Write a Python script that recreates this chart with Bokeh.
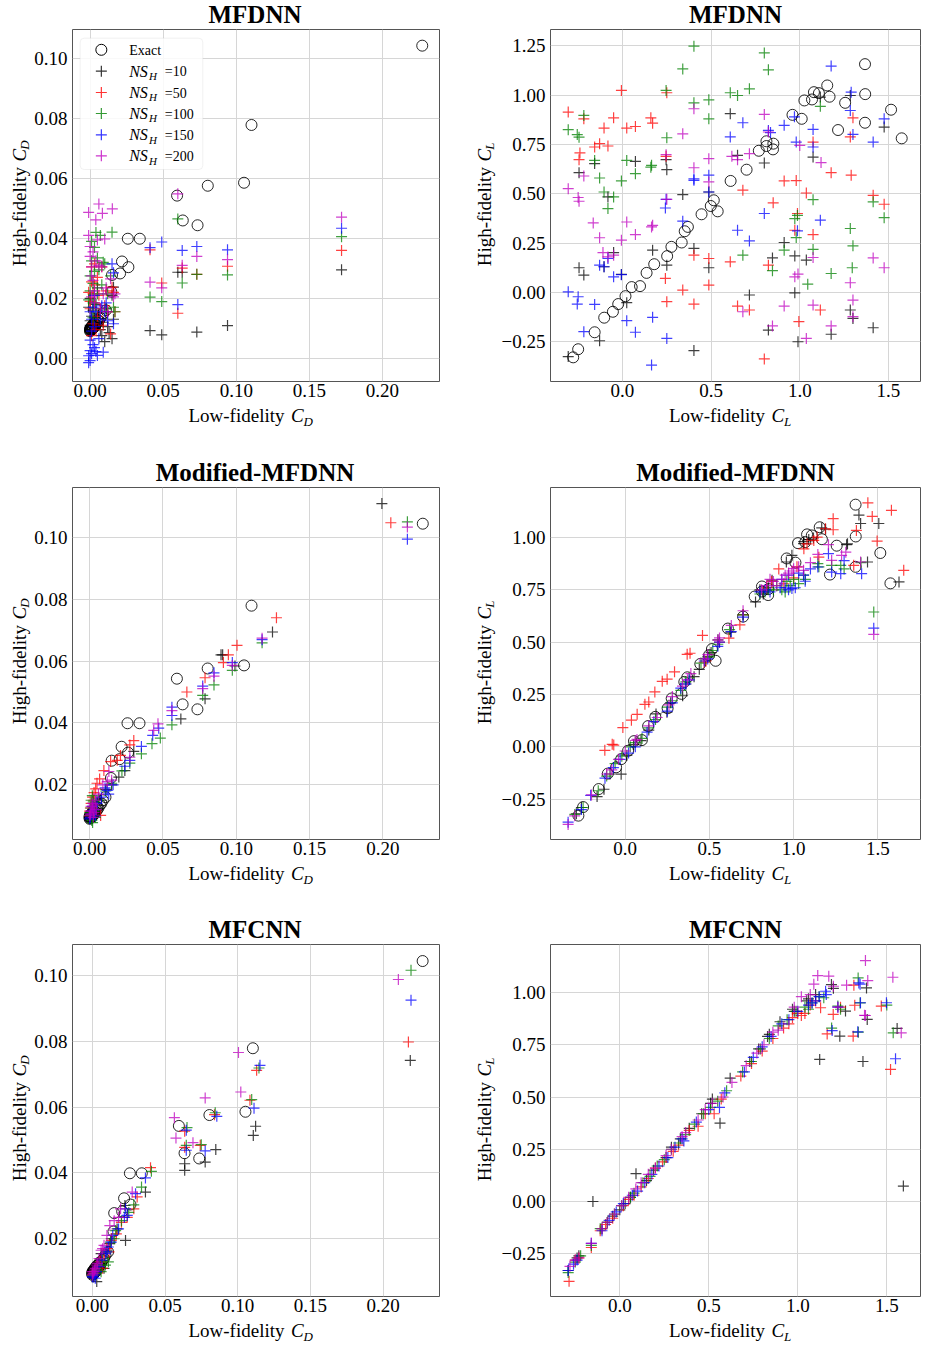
import math
from bokeh.plotting import figure
from bokeh.layouts import column, row
from bokeh.models import Range1d, FixedTicker, CustomJSTickFormatter, Label, BoxAnnotation
from bokeh.embed import file_html
from bokeh.resources import INLINE

FONT = "Liberation Serif"

SERIES_LABELS = ["10", "50", "100", "150", "200"]
SERIES_COLORS = ["#000000", "#ff0000", "#008000", "#0000ff", "#bf00bf"]

CD_X_TICKS = [0.0, 0.05, 0.10, 0.15, 0.20]
CD_Y_TICKS = [0.0, 0.02, 0.04, 0.06, 0.08, 0.10]
CL_X_TICKS = [0.0, 0.5, 1.0, 1.5]
CL_Y_TICKS = [-0.25, 0.0, 0.25, 0.5, 0.75, 1.0, 1.25]

# ---------------- exact values (low-fidelity, high-fidelity) ----------------
EXACT_CD = [(0.2272, 0.1044), (0.1104, 0.0779), (0.0805, 0.0576), (0.1053, 0.0586), (0.0595, 0.0543),
            (0.0634, 0.0460), (0.0735, 0.0444), (0.0258, 0.0399), (0.0340, 0.0399), (0.0218, 0.0323),
            (0.0262, 0.0304), (0.0205, 0.0283), (0.0150, 0.0278), (0.0145, 0.0222), (0.0108, 0.0160),
            (0.0, 0.0093), (0.0, 0.0096), (0.0, 0.0099), (0.0005, 0.0094), (0.0005, 0.0098), (0.0005, 0.0102),
            (0.001, 0.0095), (0.001, 0.0100), (0.001, 0.0105), (0.0015, 0.0097), (0.0015, 0.0103),
            (0.0015, 0.0108), (0.002, 0.0100), (0.002, 0.0106), (0.002, 0.0112), (0.003, 0.0104),
            (0.003, 0.0110), (0.003, 0.0118), (0.004, 0.0112), (0.004, 0.0120), (0.005, 0.0118),
            (0.005, 0.0128), (0.006, 0.0125), (0.007, 0.0135), (0.008, 0.0140), (0.009, 0.0150), (0.0, 0.0090)]

EXACT_CL = [(-0.278, -0.329), (-0.25, -0.288), (-0.157, -0.202), (-0.103, -0.128), (-0.054, -0.098),
            (-0.024, -0.059), (0.017, -0.019), (0.052, 0.027), (0.099, 0.032), (0.136, 0.099),
            (0.179, 0.143), (0.252, 0.184), (0.276, 0.231), (0.334, 0.253), (0.351, 0.310),
            (0.369, 0.332), (0.446, 0.396), (0.498, 0.438), (0.515, 0.467), (0.537, 0.411),
            (0.610, 0.565), (0.700, 0.622), (0.769, 0.718), (0.812, 0.766), (0.812, 0.742),
            (0.851, 0.754), (0.849, 0.725), (0.959, 0.900), (1.011, 0.880), (1.026, 0.973),
            (1.069, 0.978), (1.080, 1.015), (1.108, 1.010), (1.155, 1.049), (1.168, 0.992),
            (1.216, 0.823), (1.256, 0.961), (1.368, 1.157), (1.369, 1.005), (1.368, 0.860),
            (1.515, 0.926), (1.575, 0.781)]

# ---------------- MFDNN, C_D ----------------
MFDNN_CD_10 = [(0.0, 0.0095), (0.0, 0.011), (0.0, 0.0125), (0.001, 0.009), (0.001, 0.0105), (0.001, 0.014),
               (0.002, 0.0115), (0.002, 0.016), (0.003, 0.010), (0.003, 0.0135), (0.004, 0.018), (0.005, 0.012),
               (0.005, 0.0235), (0.006, 0.015), (0.007, 0.0095), (0.008, 0.0075), (0.009, 0.012), (0.010, 0.0055),
               (0.011, 0.0165), (0.012, 0.0105), (0.013, 0.0085), (0.015, 0.0065), (0.015, 0.021), (0.016, 0.0237),
               (0.016, 0.013), (-0.001, 0.017), (0.0, 0.020), (0.041, 0.0092), (0.049, 0.0078), (0.060, 0.0287),
               (0.063, 0.0287), (0.073, 0.0087), (0.094, 0.0109), (0.172, 0.0295)]
MFDNN_CD_50 = [(-0.001, 0.022), (0.0, 0.019), (0.0, 0.0165), (0.001, 0.0305), (0.001, 0.0255), (0.002, 0.0215),
               (0.002, 0.0115), (0.003, 0.0315), (0.003, 0.0185), (0.004, 0.0095), (0.005, 0.027), (0.005, 0.014),
               (0.006, 0.021), (0.007, 0.0165), (0.008, 0.0305), (0.009, 0.011), (0.010, 0.0175), (0.011, 0.0225),
               (0.012, 0.0155), (0.014, 0.0081), (0.015, 0.0237), (0.016, 0.022), (0.017, 0.0155), (0.001, 0.0075),
               (0.003, 0.0245), (0.041, 0.0362), (0.049, 0.0251), (0.060, 0.0150), (0.063, 0.0301), (0.073, 0.0280),
               (0.094, 0.0307), (0.172, 0.0360)]
MFDNN_CD_100 = [(-0.001, 0.0195), (0.0, 0.0225), (0.0, 0.0275), (0.001, 0.039), (0.001, 0.0325), (0.002, 0.025),
                (0.002, 0.0185), (0.003, 0.037), (0.003, 0.029), (0.004, 0.042), (0.005, 0.0215), (0.005, 0.0335),
                (0.006, 0.0295), (0.007, 0.041), (0.008, 0.0245), (0.009, 0.032), (0.010, 0.0315), (0.011, 0.0165),
                (0.012, 0.0215), (0.014, 0.0275), (0.015, 0.0421), (0.016, 0.017), (0.017, 0.0155), (0.002, 0.0135),
                (0.004, 0.0165), (0.041, 0.0204), (0.049, 0.0189), (0.060, 0.0465), (0.063, 0.0251), (0.073, 0.0280),
                (0.094, 0.0278), (0.172, 0.0406)]
MFDNN_CD_150 = [(-0.001, -0.0015), (-0.001, 0.0008), (0.0, -0.0008), (0.0, 0.0025), (0.0, 0.006), (0.001, 0.0015),
                (0.001, 0.009), (0.001, 0.013), (0.002, 0.0045), (0.002, 0.017), (0.003, 0.0035), (0.003, 0.0105),
                (0.004, 0.0022), (0.004, 0.0155), (0.005, 0.0009), (0.006, 0.0065), (0.007, 0.013), (0.008, 0.0175),
                (0.009, 0.002), (0.010, 0.0155), (0.011, 0.0185), (0.012, 0.0125), (0.015, 0.0315), (0.016, 0.0285),
                (0.016, 0.0115), (0.003, 0.021), (0.0, 0.0155), (0.041, 0.0369), (0.049, 0.0388), (0.060, 0.0179),
                (0.063, 0.0360), (0.073, 0.0373), (0.094, 0.0362), (0.172, 0.0434)]
MFDNN_CD_200 = [(-0.001, 0.0487), (0.006, 0.0515), (0.0084, 0.0484), (0.0152, 0.0499), (0.0039, 0.0462),
                (-0.001, 0.041), (0.0, 0.0373), (0.0, 0.034), (0.001, 0.0305), (0.001, 0.0275), (0.002, 0.026),
                (0.002, 0.0355), (0.003, 0.0225), (0.003, 0.0185), (0.004, 0.0325), (0.005, 0.0395), (0.006, 0.031),
                (0.007, 0.0165), (0.008, 0.0305), (0.009, 0.0215), (0.010, 0.0398), (0.011, 0.0235), (0.012, 0.0155),
                (0.014, 0.0265), (0.016, 0.0205), (0.017, 0.0215), (0.001, 0.0205), (0.041, 0.0254), (0.049, 0.0235),
                (0.060, 0.0549), (0.063, 0.0310), (0.073, 0.0340), (0.094, 0.0329), (0.172, 0.0471)]

# ---------------- MFDNN, C_L ----------------
MFDNN_CL_10 = [(-0.306, -0.325), (-0.245, 0.607), (-0.245, 0.125), (-0.218, 0.088), (-0.157, 0.653), (-0.129, -0.245),
               (-0.104, 0.13), (-0.082, 0.484), (-0.05, 0.202), (-0.006, 0.091), (0.024, -0.052), (0.073, 0.664),
               (0.17, 0.214), (0.246, 0.673), (0.25, 0.622), (0.25, 0.138), (0.34, 0.496), (0.403, 0.223),
               (0.403, -0.295), (0.487, 0.509), (0.487, 0.125), (0.608, 0.906), (0.649, 0.695), (0.716, -0.013),
               (0.8, 0.656), (0.846, 0.175), (0.823, -0.191), (0.912, 0.253), (0.972, 0.185), (0.972, -0.002),
               (0.99, -0.25), (1.037, 0.164), (1.075, 0.686), (1.116, 0.99), (1.177, -0.212), (1.285, 0.998),
               (1.285, -0.089), (1.3, -0.132), (1.414, -0.179), (1.476, 0.838)]
MFDNN_CL_50 = [(-0.306, 0.914), (-0.245, 0.673), (-0.24, 0.707), (-0.218, 0.88), (-0.157, 0.737), (-0.129, 0.754),
               (-0.104, 0.833), (-0.082, 0.742), (-0.05, 0.885), (-0.006, 1.024), (0.024, 0.833), (0.073, 0.841),
               (0.16, 0.885), (0.17, 0.858), (0.25, 1.012), (0.246, 0.69), (0.242, 0.071), (0.25, -0.047),
               (0.34, 0.012), (0.403, 0.189), (0.403, -0.059), (0.487, 0.172), (0.487, 0.037), (0.608, 0.155),
               (0.649, -0.069), (0.679, 0.518), (0.716, -0.089), (0.8, -0.337), (0.85, 0.454), (0.823, 0.138),
               (0.912, 0.565), (0.972, 0.315), (0.98, 0.567), (0.987, 0.40), (0.995, -0.148), (1.037, 0.504),
               (1.075, 0.762), (1.075, 0.293), (1.116, -0.089), (1.177, 0.607), (1.285, 0.788), (1.29, 0.594),
               (1.3, 0.885), (1.414, 0.492), (1.476, 0.447)]
MFDNN_CL_100 = [(-0.306, 0.825), (-0.255, 0.80), (-0.245, 0.787), (-0.218, 0.897), (-0.157, 0.669), (-0.129, 0.58),
                (-0.104, 0.509), (-0.05, 0.484), (-0.082, 0.425), (-0.006, 0.565), (0.024, 0.669), (0.073, 0.602),
                (0.164, 0.644), (0.16, 0.635), (0.246, 1.024), (0.25, 0.784), (0.34, 1.133), (0.403, 1.248),
                (0.403, 0.961), (0.487, 0.976), (0.487, 0.88), (0.608, 1.012), (0.649, 0.998), (0.679, 0.189),
                (0.716, 1.032), (0.8, 1.214), (0.823, 1.128), (0.846, 0.11), (0.912, 0.214), (0.972, 0.374),
                (0.987, 0.39), (0.98, 0.278), (1.045, 0.042), (1.075, 0.47), (1.075, 0.218), (1.116, 0.943),
                (1.177, 0.096), (1.285, 0.324), (1.3, 0.236), (1.296, 0.125), (1.414, 0.459), (1.476, 0.379)]
MFDNN_CL_150 = [(-0.306, 0.003), (-0.25, -0.022), (-0.255, -0.059), (-0.218, -0.199), (-0.157, -0.061), (-0.129, 0.138),
                (-0.104, 0.13), (-0.082, 0.172), (-0.05, 0.079), (-0.006, 0.09), (0.024, -0.143), (0.073, -0.202),
                (0.17, -0.126), (0.164, -0.368), (0.246, 0.472), (0.242, 0.428), (0.25, -0.233), (0.34, 0.361),
                (0.403, 0.568), (0.403, 0.575), (0.487, 0.594), (0.487, 0.509), (0.608, 0.788), (0.649, 0.315),
                (0.679, 0.86), (0.716, 0.261), (0.8, 0.40), (0.823, 0.821), (0.835, 0.81), (0.912, 0.847),
                (0.98, 0.762), (0.987, 0.312), (1.075, 0.826), (1.075, 0.737), (1.116, 0.366), (1.177, 1.147),
                (1.29, 1.015), (1.285, 0.922), (1.3, 0.801), (1.414, 0.762), (1.476, 0.88), (0.97, 0.89)]
MFDNN_CL_200 = [(-0.306, 0.526), (-0.25, 0.481), (-0.245, 0.462), (-0.218, 0.59), (-0.165, 0.352), (-0.129, 0.277),
                (-0.11, 0.202), (-0.082, 0.18), (-0.05, 0.189), (-0.006, 0.265), (0.024, 0.357), (0.073, 0.293),
                (0.164, 0.332), (0.17, 0.34), (0.246, 0.698), (0.25, 0.472), (0.34, 0.804), (0.403, 0.931),
                (0.403, 0.632), (0.487, 0.678), (0.487, 0.56), (0.617, 0.69), (0.649, 0.673), (0.679, -0.098),
                (0.716, 0.703), (0.8, 0.902), (0.823, 0.813), (0.846, -0.17), (0.912, -0.069), (0.972, 0.079),
                (0.99, 0.093), (1.0, 0.745), (1.037, -0.233), (1.075, 0.177), (1.075, -0.064), (1.12, 0.658),
                (1.177, -0.17), (1.285, 0.049), (1.3, -0.039), (1.3, -0.123), (1.414, 0.175), (1.476, 0.125)]

# ---------------- Modified-MFDNN, C_D ----------------
MOD_CD_10 = [(0.1993, 0.1109), (0.1247, 0.0694), (0.0896, 0.0620), (0.0907, 0.0620), (0.0991, 0.0584), (0.0787, 0.0478),
             (0.0622, 0.0413), (0.0301, 0.0308), (0.0240, 0.0246), (0.0199, 0.0225), (0.0150, 0.0200), (0.0110, 0.0185),
             (0.0063, 0.0155), (0.0040, 0.0135), (0.0025, 0.0120), (0.0015, 0.0108), (0.0005, 0.0098), (0.0, 0.0095),
             (0.0, 0.0092), (0.001, 0.0100), (0.002, 0.0112), (0.003, 0.0125), (0.008, 0.0150), (0.0005, 0.0105),
             (0.0015, 0.0095)]
MOD_CD_50 = [(0.2054, 0.1047), (0.1274, 0.0740), (0.1005, 0.0651), (0.0946, 0.0620), (0.0912, 0.0595), (0.0787, 0.0546),
             (0.0663, 0.0500), (0.0301, 0.0343), (0.0274, 0.0329), (0.0210, 0.0295), (0.0188, 0.0279), (0.0143, 0.0275),
             (0.0097, 0.0246), (0.0068, 0.0219), (0.0041, 0.0187), (0.0030, 0.0175), (0.0020, 0.0160), (0.0075, 0.0101),
             (0.0010, 0.0140), (0.0005, 0.0125), (0.0, 0.0115), (0.005, 0.0205), (0.0025, 0.0150), (0.0015, 0.0105),
             (0.0, 0.0100)]
MOD_CD_100 = [(0.2167, 0.1050), (0.1176, 0.0659), (0.0973, 0.0570), (0.0848, 0.0523), (0.0771, 0.0489), (0.0561, 0.0394),
              (0.0482, 0.0351), (0.0425, 0.0333), (0.0353, 0.0300), (0.0274, 0.0270), (0.0220, 0.0245), (0.0150, 0.0205),
              (0.0110, 0.0180), (0.0018, 0.0165), (0.0010, 0.0150), (0.0020, 0.0130), (0.0030, 0.0115), (0.0005, 0.0100),
              (0.0015, 0.0085), (0.0020, 0.0078), (0.0, 0.0110), (0.004, 0.0095), (0.0025, 0.0145), (0.006, 0.0150),
              (0.0008, 0.0125)]
MOD_CD_150 = [(0.2167, 0.0994), (0.1176, 0.0669), (0.0973, 0.0595), (0.0848, 0.0562), (0.0771, 0.0519), (0.0561, 0.0451),
              (0.0561, 0.0424), (0.0471, 0.0383), (0.0430, 0.0360), (0.0353, 0.0324), (0.0274, 0.0279), (0.0240, 0.0260),
              (0.0120, 0.0182), (0.0130, 0.0170), (0.0105, 0.0190), (0.0080, 0.0160), (0.0050, 0.0140), (0.0030, 0.0120),
              (0.0015, 0.0105), (0.0005, 0.0095), (0.0, 0.0090), (0.002, 0.0130), (0.001, 0.0115), (0.0160, 0.0200),
              (0.0040, 0.0100)]
MOD_CD_200 = [(0.2167, 0.1033), (0.1176, 0.0674), (0.0973, 0.0586), (0.0848, 0.0551), (0.0771, 0.0511), (0.0561, 0.0440),
              (0.0466, 0.0397), (0.0437, 0.0376), (0.0274, 0.0289), (0.0131, 0.0243), (0.0120, 0.0210), (0.0150, 0.0215),
              (0.0090, 0.0200), (0.0060, 0.0170), (0.0040, 0.0150), (0.0030, 0.0135), (0.0020, 0.0125), (0.0010, 0.0115),
              (0.0005, 0.0105), (0.0, 0.0100), (0.002, 0.0140), (0.003, 0.0110), (0.001, 0.0130), (0.0025, 0.0095),
              (0.0045, 0.0120)]

# ---------------- Modified-MFDNN, C_L ----------------
MOD_CL_10 = [(-0.29, -0.32), (-0.26, -0.29), (-0.167, -0.238), (-0.126, -0.203), (-0.09, -0.13), (-0.024, -0.131),
             (0.01, -0.04), (0.05, 0.01), (0.094, 0.029), (0.14, 0.08), (0.183, 0.157), (0.248, 0.165), (0.27, 0.21),
             (0.341, 0.244), (0.36, 0.30), (0.409, 0.335), (0.44, 0.37), (0.49, 0.43), (0.51, 0.45), (0.551, 0.511),
             (0.626, 0.548), (0.70, 0.631), (0.774, 0.692), (0.80, 0.75), (0.82, 0.73), (0.85, 0.76), (0.872, 0.796),
             (0.957, 0.883), (0.99, 0.915), (1.059, 0.971), (1.09, 0.99), (1.118, 0.998), (1.167, 1.046), (1.19, 1.04),
             (1.315, 0.966), (1.32, 0.97), (1.388, 1.107), (1.398, 1.067), (1.506, 1.067), (1.439, 0.883),
             (1.626, 0.788), (1.06, 0.98)]
MOD_CL_50 = [(-0.121, -0.017), (-0.077, 0.012), (-0.068, 0.008), (-0.014, 0.092), (0.037, 0.127), (0.071, 0.155),
             (0.117, 0.203), (0.140, 0.214), (0.176, 0.262), (0.220, 0.313), (0.249, 0.323), (0.293, 0.358),
             (0.368, 0.442), (0.385, 0.447), (0.459, 0.532), (0.469, 0.404), (0.48, 0.41), (0.56, 0.50),
             (0.616, 0.519), (0.681, 0.583), (0.701, 0.631), (0.84, 0.76), (0.87, 0.79), (0.912, 0.850),
             (0.942, 0.779), (1.001, 0.807), (1.02, 0.86), (1.061, 0.946), (1.12, 0.986), (1.14, 1.002),
             (1.189, 1.042), (1.235, 1.090), (1.235, 1.037), (1.15, 0.906), (1.357, 0.867), (1.373, 1.034),
             (1.441, 1.166), (1.467, 1.101), (1.496, 0.983), (1.581, 1.130), (1.654, 0.843), (1.08, 0.97)]
MOD_CL_100 = [(-0.299, -0.323), (-0.25, -0.29), (-0.16, -0.21), (-0.11, -0.14), (-0.06, -0.08), (-0.02, -0.045),
              (0.03, 0.0), (0.06, 0.02), (0.1, 0.04), (0.14, 0.09), (0.18, 0.13), (0.25, 0.19), (0.28, 0.22),
              (0.33, 0.27), (0.36, 0.31), (0.38, 0.33), (0.45, 0.40), (0.50, 0.43), (0.52, 0.46), (0.55, 0.49),
              (0.62, 0.56), (0.70, 0.63), (0.80, 0.73), (0.83, 0.74), (0.85, 0.75), (0.88, 0.75), (0.93, 0.75),
              (0.96, 0.79), (1.0, 0.80), (1.03, 0.78), (1.07, 0.80), (1.144, 0.875), (1.15, 0.86), (1.226, 0.867),
              (1.28, 0.867), (1.30, 0.85), (1.40, 0.88), (1.476, 0.644), (0.95, 0.74), (0.98, 0.77), (1.06, 0.82),
              (0.90, 0.77)]
MOD_CL_150 = [(-0.339, -0.36), (-0.26, -0.30), (-0.205, -0.232), (-0.12, -0.15), (-0.07, -0.10), (-0.03, -0.06),
              (0.02, -0.03), (0.06, 0.00), (0.13, 0.07), (0.17, 0.12), (0.25, 0.17), (0.28, 0.21), (0.33, 0.28),
              (0.36, 0.30), (0.38, 0.32), (0.47, 0.41), (0.49, 0.42), (0.55, 0.48), (0.56, 0.50), (0.63, 0.55),
              (0.70, 0.62), (0.80, 0.74), (0.83, 0.75), (0.86, 0.74), (0.92, 0.76), (0.95, 0.76), (0.97, 0.75),
              (0.99, 0.756), (1.01, 0.76), (1.059, 0.820), (1.069, 0.791), (1.144, 0.859), (1.207, 0.923),
              (1.226, 0.835), (1.28, 0.827), (1.30, 0.89), (1.404, 0.827), (1.476, 0.567), (0.93, 0.80),
              (0.97, 0.82), (1.03, 0.83), (1.10, 0.85)]
MOD_CL_200 = [(-0.339, -0.371), (-0.30, -0.33), (-0.20, -0.23), (-0.11, -0.13), (-0.08, -0.11), (-0.04, -0.06),
              (0.0, -0.02), (0.06, 0.03), (0.07, 0.035), (0.14, 0.10), (0.19, 0.14), (0.26, 0.20), (0.28, 0.24),
              (0.34, 0.29), (0.37, 0.32), (0.39, 0.35), (0.47, 0.42), (0.49, 0.44), (0.55, 0.51), (0.56, 0.52),
              (0.63, 0.58), (0.70, 0.65), (0.81, 0.75), (0.84, 0.77), (0.86, 0.80), (0.88, 0.79), (0.93, 0.80),
              (0.95, 0.82), (0.99, 0.84), (1.0, 0.851), (1.059, 0.843), (1.144, 0.919), (1.207, 0.966),
              (1.226, 0.891), (1.285, 0.915), (1.31, 0.93), (1.398, 0.883), (1.476, 0.537), (0.90, 0.77),
              (0.97, 0.83), (1.03, 0.86), (1.10, 0.88)]

# ---------------- MFCNN, C_D ----------------
CNN_CD_10 = [(0.2187, 0.0742), (0.1123, 0.0542), (0.1107, 0.0514), (0.0849, 0.0471), (0.0776, 0.0433), (0.0635, 0.0428),
             (0.0635, 0.0408), (0.0365, 0.0342), (0.0224, 0.0301), (0.0228, 0.0195), (0.0170, 0.0230), (0.0130, 0.0200),
             (0.0100, 0.0165), (0.0080, 0.0110), (0.0060, 0.0155), (0.0045, 0.0125), (0.0030, 0.0100), (0.0030, 0.0070),
             (0.0020, 0.0090), (0.0010, 0.0095), (0.0005, 0.0085), (0.0, 0.0090), (0.006, 0.0140), (0.012, 0.0185),
             (0.004, 0.0110)]
CNN_CD_50 = [(0.2174, 0.0798), (0.1130, 0.0712), (0.1084, 0.0621), (0.0840, 0.0577), (0.0635, 0.0527), (0.0742, 0.0484),
             (0.0635, 0.0478), (0.0400, 0.0416), (0.0308, 0.0327), (0.0285, 0.0291), (0.0240, 0.0265), (0.0200, 0.0250),
             (0.0165, 0.0215), (0.0130, 0.0195), (0.0100, 0.0170), (0.0080, 0.0145), (0.0060, 0.0130), (0.0045, 0.0115),
             (0.0030, 0.0105), (0.0015, 0.0095), (0.0005, 0.0090), (0.0, 0.0088), (0.0070, 0.0110), (0.0115, 0.0160),
             (0.0020, 0.0100)]
CNN_CD_100 = [(0.2192, 0.1016), (0.1146, 0.0719), (0.1096, 0.0623), (0.0845, 0.0583), (0.0651, 0.0538), (0.0749, 0.0486),
              (0.0646, 0.0484), (0.0406, 0.0405), (0.0338, 0.0357), (0.0285, 0.0303), (0.0250, 0.0280), (0.0200, 0.0255),
              (0.0160, 0.0225), (0.0125, 0.0190), (0.0100, 0.0160), (0.0090, 0.0120), (0.0070, 0.0140), (0.0050, 0.0120),
              (0.0035, 0.0105), (0.0020, 0.0095), (0.0010, 0.0090), (0.0, 0.0088), (0.0110, 0.0130), (0.0060, 0.0100),
              (0.0150, 0.0200)]
CNN_CD_150 = [(0.2192, 0.0925), (0.1153, 0.0727), (0.1112, 0.0597), (0.0856, 0.0572), (0.0646, 0.0530), (0.0646, 0.0469),
              (0.0776, 0.0467), (0.0365, 0.0385), (0.0297, 0.0337), (0.0228, 0.0291), (0.0240, 0.0271), (0.0220, 0.0265),
              (0.0180, 0.0230), (0.0140, 0.0210), (0.0110, 0.0175), (0.0090, 0.0155), (0.0065, 0.0135), (0.0045, 0.0115),
              (0.0030, 0.0100), (0.0015, 0.0090), (0.0005, 0.0083), (0.0, 0.0085), (0.0020, 0.0080), (0.0100, 0.0160),
              (0.0130, 0.0190)]
CNN_CD_200 = [(0.2105, 0.0988), (0.1005, 0.0766), (0.1021, 0.0646), (0.0776, 0.0628), (0.0564, 0.0568), (0.0575, 0.0506),
              (0.0692, 0.0492), (0.0274, 0.0342), (0.0194, 0.0291), (0.0180, 0.0265), (0.0150, 0.0255), (0.0120, 0.0240),
              (0.0100, 0.0210), (0.0080, 0.0180), (0.0060, 0.0165), (0.0045, 0.0140), (0.0030, 0.0120), (0.0020, 0.0110),
              (0.0010, 0.0100), (0.0005, 0.0095), (0.0, 0.0090), (0.0, 0.0100), (0.0015, 0.0105), (0.0035, 0.0125),
              (0.0070, 0.0170)]

# ---------------- MFCNN, C_L ----------------
CNN_CL_10 = [(-0.29, -0.33), (-0.24, -0.27), (-0.23, -0.26), (-0.151, 0.0), (-0.10, -0.13), (-0.07, -0.10), (-0.04, -0.07),
             (0.0, -0.04), (0.03, -0.01), (0.06, 0.02), (0.091, 0.133), (0.15, 0.10), (0.19, 0.15), (0.26, 0.21),
             (0.29, 0.26), (0.34, 0.30), (0.39, 0.35), (0.46, 0.42), (0.51, 0.47), (0.52, 0.49), (0.563, 0.375),
             (0.62, 0.59), (0.73, 0.67), (0.78, 0.73), (0.84, 0.80), (0.90, 0.86), (0.97, 0.92), (1.06, 0.97),
             (1.10, 0.99), (1.189, 1.038), (1.386, 1.022), (1.268, 0.911), (1.39, 0.871), (1.236, 0.791),
             (1.558, 0.828), (1.123, 0.68), (1.366, 0.67), (1.593, 0.074), (1.20, 1.02), (1.05, 0.96), (0.83, 0.79),
             (0.98, 0.91)]
CNN_CL_50 = [(-0.285, -0.382), (-0.25, -0.28), (-0.23, -0.27), (-0.16, -0.22), (-0.11, -0.14), (-0.08, -0.11),
             (-0.04, -0.08), (0.02, -0.02), (0.05, 0.01), (0.08, 0.03), (0.12, 0.07), (0.16, 0.11), (0.20, 0.16),
             (0.24, 0.19), (0.30, 0.24), (0.33, 0.27), (0.39, 0.34), (0.44, 0.36), (0.48, 0.42), (0.53, 0.42),
             (0.57, 0.49), (0.68, 0.60), (0.74, 0.66), (0.80, 0.72), (0.86, 0.78), (0.92, 0.83), (0.97, 0.88),
             (1.0, 0.90), (1.04, 0.90), (1.315, 1.035), (1.128, 0.927), (1.320, 0.939), (1.469, 0.935),
             (1.199, 0.895), (1.165, 0.802), (1.311, 0.791), (1.521, 0.632), (1.07, 0.94), (1.02, 0.89),
             (1.24, 0.93), (1.10, 0.96), (0.95, 0.85)]
CNN_CL_100 = [(-0.29, -0.34), (-0.25, -0.29), (-0.22, -0.26), (-0.16, -0.21), (-0.11, -0.13), (-0.07, -0.10),
              (-0.03, -0.06), (0.01, -0.02), (0.06, 0.02), (0.08, 0.04), (0.13, 0.09), (0.17, 0.12), (0.21, 0.17),
              (0.25, 0.20), (0.29, 0.25), (0.33, 0.28), (0.37, 0.32), (0.42, 0.37), (0.47, 0.42), (0.51, 0.45),
              (0.55, 0.48), (0.60, 0.53), (0.69, 0.62), (0.74, 0.67), (0.79, 0.73), (0.84, 0.78), (0.89, 0.84),
              (0.94, 0.87), (0.99, 0.91), (1.04, 0.93), (1.339, 1.070), (1.146, 0.975), (1.35, 0.95), (1.50, 0.94),
              (1.225, 0.935), (1.19, 0.83), (1.34, 0.81), (1.536, 0.807), (1.08, 0.95), (1.12, 0.98), (1.06, 0.92),
              (1.24, 0.92)]
CNN_CL_150 = [(-0.29, -0.33), (-0.26, -0.30), (-0.24, -0.28), (-0.16, -0.20), (-0.10, -0.14), (-0.06, -0.09),
              (-0.02, -0.05), (0.02, -0.01), (0.07, 0.03), (0.10, 0.05), (0.14, 0.09), (0.18, 0.13), (0.22, 0.17),
              (0.27, 0.21), (0.31, 0.26), (0.35, 0.30), (0.36, 0.29), (0.43, 0.38), (0.50, 0.44), (0.56, 0.45),
              (0.59, 0.52), (0.70, 0.62), (0.75, 0.69), (0.80, 0.74), (0.85, 0.79), (0.91, 0.85), (0.95, 0.87),
              (1.0, 0.91), (1.06, 0.94), (1.08, 0.95), (1.343, 1.046), (1.156, 1.006), (1.352, 0.951),
              (1.498, 0.951), (1.225, 0.93), (1.193, 0.818), (1.337, 0.812), (1.549, 0.683), (1.12, 0.98),
              (1.10, 0.96), (1.16, 0.99), (1.35, 1.04)]
CNN_CL_200 = [(-0.28, -0.31), (-0.25, -0.28), (-0.23, -0.27), (-0.16, -0.20), (-0.10, -0.13), (-0.07, -0.10),
              (-0.03, -0.06), (0.01, -0.02), (0.05, 0.02), (0.09, 0.06), (0.12, 0.09), (0.16, 0.13), (0.20, 0.16),
              (0.26, 0.22), (0.29, 0.25), (0.35, 0.31), (0.37, 0.33), (0.44, 0.39), (0.48, 0.44), (0.52, 0.47),
              (0.58, 0.50), (0.63, 0.57), (0.71, 0.65), (0.77, 0.71), (0.81, 0.75), (0.86, 0.81), (0.89, 0.82),
              (0.98, 0.93), (1.02, 0.98), (1.07, 0.99), (1.380, 1.153), (1.534, 1.073), (1.112, 1.081),
              (1.174, 1.078), (1.393, 1.057), (1.274, 1.035), (1.09, 1.04), (1.225, 0.93), (1.375, 0.891),
              (1.581, 0.807), (1.38, 0.89), (1.20, 1.03)]

PANEL_W = 464
FRAME_H = 352
TICK_BAND = 23      # room under the frame for the x tick labels
BASE_FIX = 0.32     # the rendered baseline sits this many em lower than asked; compensate


def strip(w, h):
    """A bare figure whose frame fills it, used as a canvas for titles and axis labels."""
    f = figure(width=w, height=h, x_range=Range1d(0, w), y_range=Range1d(0, h),
               output_backend="svg", toolbar_location=None, x_axis_type=None, y_axis_type=None,
               min_border_left=0, min_border_right=0, min_border_top=0, min_border_bottom=0)
    f.outline_line_color = None
    f.background_fill_color = "white"
    f.border_fill_color = "white"
    f.xgrid.grid_line_color = None
    f.ygrid.grid_line_color = None
    return f


def stext(f, h, px, py, text, size, style="normal", align="left", angle=0.0):
    if angle == 0.0:
        py = py - BASE_FIX * size
    else:
        px = px - BASE_FIX * size
    f.add_layout(Label(x=px, y=h - py, text=text, text_font=FONT, text_font_size=f"{size}px",
                       text_font_style=style, text_align=align, text_baseline="alphabetic",
                       angle=angle, text_color="#000000"))


def flabel(p, dx, dy, text, size, style="normal"):
    """Text placed in pixels from the top-left corner of the plot frame (legend)."""
    dy = dy - BASE_FIX * size
    p.add_layout(Label(x=p.x_range.start, y=p.y_range.end, x_offset=dx, y_offset=-dy, text=text,
                       text_font=FONT, text_font_size=f"{size}px", text_font_style=style,
                       text_align="left", text_baseline="alphabetic", text_color="#000000"))


def make_panel(title, xr, yr, xticks, yticks, xdec, ydec, sub, exact, series,
               bl, br, top_h, bottom_h, ylab_w, ylab_base, legend=False):
    fw = PANEL_W - bl - br
    main_h = 1 + FRAME_H + TICK_BAND
    p = figure(width=PANEL_W - ylab_w, height=main_h, x_range=Range1d(*xr), y_range=Range1d(*yr),
               output_backend="svg", toolbar_location=None,
               min_border_left=bl - ylab_w, min_border_right=br, min_border_top=1,
               min_border_bottom=TICK_BAND)
    p.background_fill_color = "white"
    p.border_fill_color = "white"
    p.outline_line_color = "#555555"
    p.outline_line_width = 1
    for ax, ticks, dec, so in ((p.xaxis[0], xticks, xdec, 2), (p.yaxis[0], yticks, ydec, 5)):
        ax.ticker = FixedTicker(ticks=ticks)
        ax.formatter = CustomJSTickFormatter(
            code="return (tick < 0 ? '\u2212' : '') + Math.abs(tick).toFixed(%d);" % dec)
        ax.major_label_text_font = FONT
        ax.major_label_text_font_size = "19px"
        ax.major_label_text_color = "#000000"
        ax.axis_line_color = None
        ax.major_tick_line_color = None
        ax.minor_tick_line_color = None
        ax.major_tick_out = 0
        ax.major_tick_in = 0
        ax.major_label_standoff = so
    p.xgrid.grid_line_color = "#d6d6d6"
    p.ygrid.grid_line_color = "#d6d6d6"

    if exact is not None:
        p.scatter([a for a, b in exact], [b for a, b in exact], marker="circle", size=11,
                  fill_color=None, line_color="#000000", line_width=1, line_alpha=0.85)
    for pts, col in zip(series, SERIES_COLORS):
        p.scatter([a for a, b in pts], [b for a, b in pts], marker="cross", size=11,
                  line_color=col, line_width=1.2, line_alpha=0.75)

    if legend:
        x0, x1 = xr
        y0, y1 = yr
        sx = (x1 - x0) / fw
        sy = (y1 - y0) / FRAME_H
        X = lambda dx: x0 + dx * sx
        Y = lambda dy: y1 - dy * sy
        p.add_layout(BoxAnnotation(left=X(7.7), right=X(131), top=Y(8.7), bottom=Y(140),
                                   fill_color="white", fill_alpha=0.85, line_color="#d0d0d0",
                                   line_width=1, border_radius=4))
        rows = [20.3, 41.7, 63.0, 84.0, 105.3, 126.3]
        p.scatter([X(29)], [Y(rows[0])], marker="circle", size=11, fill_color=None,
                  line_color="#000000", line_width=1, level="overlay")
        flabel(p, 56.7, rows[0] + 5, "Exact", 14)
        for r, lab, col in zip(rows[1:], SERIES_LABELS, SERIES_COLORS):
            p.scatter([X(29)], [Y(r)], marker="cross", size=11, line_color=col, line_width=1.2,
                      line_alpha=0.8, level="overlay")
            flabel(p, 56.7, r + 5, "NS", 16, "italic")
            flabel(p, 76.5, r + 8.5, "H", 11, "italic")
            flabel(p, 92.3, r + 5, "=" + lab, 14)

    cx = bl + fw / 2
    # title strip
    t = strip(PANEL_W, top_h)
    stext(t, top_h, cx, top_h - 5.6, title, 25, "bold", "center")
    # y-label strip (rotated text)
    yl = strip(ylab_w, main_h)
    cy = 1 + FRAME_H / 2
    ang = math.pi / 2
    stext(yl, main_h, ylab_base, cy - 30, "High-fidelity", 19, "normal", "right", ang)
    stext(yl, main_h, ylab_base, cy - 36, "C", 19, "italic", "left", ang)
    stext(yl, main_h, ylab_base + 3, cy - 48.5, sub, 13, "italic", "left", ang)
    # x-label strip
    xl = strip(PANEL_W, bottom_h)
    base = 40 - TICK_BAND
    stext(xl, bottom_h, cx + 29.5, base, "Low-fidelity", 19, "normal", "right")
    stext(xl, bottom_h, cx + 36, base, "C", 19, "italic", "left")
    stext(xl, bottom_h, cx + 48.5, base + 4, sub, 13, "italic", "left")
    return column(t, row(yl, p), xl)


MAIN_H = 1 + FRAME_H + TICK_BAND
p1 = make_panel("MFDNN", (-0.01204, 0.2390), (-0.0078, 0.1098), CD_X_TICKS, CD_Y_TICKS, 2, 2, "D", EXACT_CD,
                [MFDNN_CD_10, MFDNN_CD_50, MFDNN_CD_100, MFDNN_CD_150, MFDNN_CD_200],
                70, 25, 28, 457 - 28 - MAIN_H, 31, 25.0, legend=True)
p2 = make_panel("MFDNN", (-0.406, 1.681), (-0.4515, 1.3326), CL_X_TICKS, CL_Y_TICKS, 1, 2, "L", EXACT_CL,
                [MFDNN_CL_10, MFDNN_CL_50, MFDNN_CL_100, MFDNN_CL_150, MFDNN_CL_200],
                86, 8, 28, 457 - 28 - MAIN_H, 34, 26.5)
p3 = make_panel("Modified-MFDNN", (-0.0117, 0.2386), (0.00232, 0.1161), CD_X_TICKS, CD_Y_TICKS, 2, 2, "D",
                EXACT_CD, [MOD_CD_10, MOD_CD_50, MOD_CD_100, MOD_CD_150, MOD_CD_200],
                70, 25, 29, 457 - 29 - MAIN_H, 31, 25.0)
p4 = make_panel("Modified-MFDNN", (-0.4436, 1.7536), (-0.443, 1.239), CL_X_TICKS, CL_Y_TICKS, 1, 2, "L",
                EXACT_CL, [MOD_CL_10, MOD_CL_50, MOD_CL_100, MOD_CL_150, MOD_CL_200],
                86, 8, 29, 457 - 29 - MAIN_H, 34, 26.5)
p5 = make_panel("MFCNN", (-0.01368, 0.2388), (0.00245, 0.10943), CD_X_TICKS, CD_Y_TICKS, 2, 2, "D",
                EXACT_CD, [CNN_CD_10, CNN_CD_50, CNN_CD_100, CNN_CD_150, CNN_CD_200],
                70, 25, 29, 431 - 29 - MAIN_H, 31, 25.0)
p6 = make_panel("MFCNN", (-0.3893, 1.6893), (-0.4545, 1.2297), CL_X_TICKS, CL_Y_TICKS, 1, 2, "L",
                None, [CNN_CL_10, CNN_CL_50, CNN_CL_100, CNN_CL_150, CNN_CL_200],
                86, 8, 29, 431 - 29 - MAIN_H, 34, 26.5)

layout = column(row(p1, p2), row(p3, p4), row(p5, p6))
open("out.html", "w").write(file_html(layout, INLINE))
